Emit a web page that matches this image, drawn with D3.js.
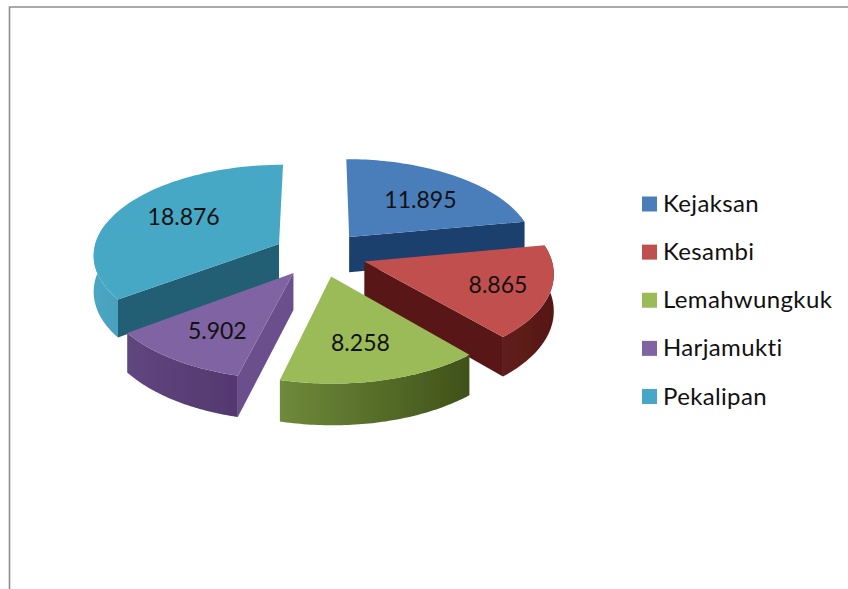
<!DOCTYPE html>
<html>
<head>
<meta charset="utf-8">
<style>
  html, body { margin: 0; padding: 0; background: #fff; }
  svg { display: block; }
  text { font-family: Lato, "Open Sans", sans-serif; fill: #111; }
</style>
<script src="https://cdn.jsdelivr.net/npm/d3@7"></script>
</head>
<body>
<svg id="chart" width="848" height="589"></svg>
<script>
var categories = ["Kejaksan", "Kesambi", "Lemahwungkuk", "Harjamukti", "Pekalipan"]
var values = [11895, 8865, 8258, 5902, 18876]
var valueLabels = ["11.895", "8.865", "8.258", "5.902", "18.876"]
var topColors = ["#4a7ebb", "#c0504d", "#9bbb59", "#8064a2", "#46a8c6"]
var cutColors = ["#1d3f6e", "#581818", "#566d2c", "#6a4f8c", "#235f75"]
var rimLeftColors = ["#2c5a94", "#621c1b", "#6f8a3a", "#5f467e", "#4aa6c2"]
var rimRightColors = ["#1d3f6e", "#561816", "#3f5219", "#54386f", "#367f99"]

var view = { cx: 320, cy: 254, f: 186, fy: 90, k: 0.11, explode: 0.25, depth: 36, labelR: 0.6 }
var labelNudge = [[6, 1], [24, 5], [0, 7], [-7, 8], [-1, -4]]

var svg = d3.select("#chart")
var defs = svg.append("defs")
defs.append("filter").attr("id", "soft")
  .append("feGaussianBlur").attr("stdDeviation", 0.45)

// simple perspective: Y goes away from the viewer, z pushes the point down
function project(X, Y, z) {
  var w = 1 + view.k * Y
  return [
    view.cx + view.f * X / w,
    view.cy - view.fy * Y / w + (z ? view.depth / w : 0)
  ]
}

function slicePoint(d, angle, r, z) {
  var mid = (d.startAngle + d.endAngle) / 2
  var X = view.explode * Math.sin(mid) + r * Math.sin(angle)
  var Y = view.explode * Math.cos(mid) + r * Math.cos(angle)
  return project(X, Y, z)
}

function rimAngles(d) {
  var n = 60
  return d3.range(n + 1).map(function (i) {
    return d.startAngle + (d.endAngle - d.startAngle) * i / n
  })
}

function rimPoints(d, z, angles) {
  return (angles || rimAngles(d)).map(function (a) { return slicePoint(d, a, 1, z) })
}

var line = d3.line().curve(d3.curveLinear)
var pie = d3.pie().sort(null).value(function (d) { return d })
var slices = pie(values)

// back slices first so the front ones cover them
var order = slices.slice().sort(function (a, b) {
  return Math.cos((b.startAngle + b.endAngle) / 2) - Math.cos((a.startAngle + a.endAngle) / 2)
})

var plot = svg.append("g").attr("filter", "url(#soft)")

order.forEach(function (d) {
  var i = d.index
  // the rim only shows on the part of the circle facing the viewer
  var front = rimAngles(d).filter(function (a) { return Math.cos(a) < 0.25 })
  var xs = rimPoints(d, false).concat(rimPoints(d, true)).map(function (p) { return p[0] })
  var grad = defs.append("linearGradient")
    .attr("id", "rim" + i)
    .attr("gradientUnits", "userSpaceOnUse")
    .attr("x1", d3.min(xs)).attr("x2", d3.max(xs))
    .attr("y1", 0).attr("y2", 0)
  grad.append("stop").attr("offset", 0).attr("stop-color", rimLeftColors[i])
  grad.append("stop").attr("offset", 1).attr("stop-color", rimRightColors[i])

  var g = plot.append("g")
  // only the cut faces turned towards the viewer
  var cuts = []
  if (Math.sin(d.startAngle) < -0.01) cuts.push(d.startAngle)
  if (Math.sin(d.endAngle) > 0.01) cuts.push(d.endAngle)
  cuts.forEach(function (a) {
    g.append("path")
      .attr("d", line([
        slicePoint(d, a, 0, false), slicePoint(d, a, 1, false),
        slicePoint(d, a, 1, true), slicePoint(d, a, 0, true)
      ]) + "Z")
      .attr("fill", cutColors[i])
  })
  if (front.length > 1) {
    g.append("path")
      .attr("d", line(rimPoints(d, false, front).concat(rimPoints(d, true, front).reverse())) + "Z")
      .attr("fill", "url(#rim" + i + ")")
  }
  g.append("path")
    .attr("d", line([slicePoint(d, 0, 0, false)].concat(rimPoints(d, false))) + "Z")
    .attr("fill", topColors[i])
})

svg.append("g").selectAll("text")
  .data(slices)
  .enter().append("text")
  .attr("text-anchor", "middle")
  .attr("font-size", 23)
  .attr("x", function (d) {
    return slicePoint(d, (d.startAngle + d.endAngle) / 2, view.labelR, false)[0] + labelNudge[d.index][0]
  })
  .attr("y", function (d) {
    return slicePoint(d, (d.startAngle + d.endAngle) / 2, view.labelR, false)[1] + labelNudge[d.index][1] + 8
  })
  .text(function (d) { return valueLabels[d.index] })

// legend
var legendY = d3.scalePoint().domain(categories).range([204, 396.5])
var legend = svg.append("g").selectAll("g")
  .data(categories)
  .enter().append("g")
  .attr("transform", function (d) { return "translate(642," + legendY(d) + ")" })
legend.append("rect")
  .attr("y", -7.5)
  .attr("width", 15)
  .attr("height", 15)
  .attr("fill", function (d, i) { return topColors[i] })
legend.append("text")
  .attr("x", 21)
  .attr("y", 8)
  .attr("font-size", 24)
  .attr("letter-spacing", 0.35)
  .text(function (d) { return d })

// frame, only top and left survive in the crop
svg.append("path")
  .attr("d", "M9.5,589V7H848")
  .attr("fill", "none")
  .attr("stroke", "#8e8e8e")
  .attr("stroke-width", 1.6)
</script>
</body>
</html>
